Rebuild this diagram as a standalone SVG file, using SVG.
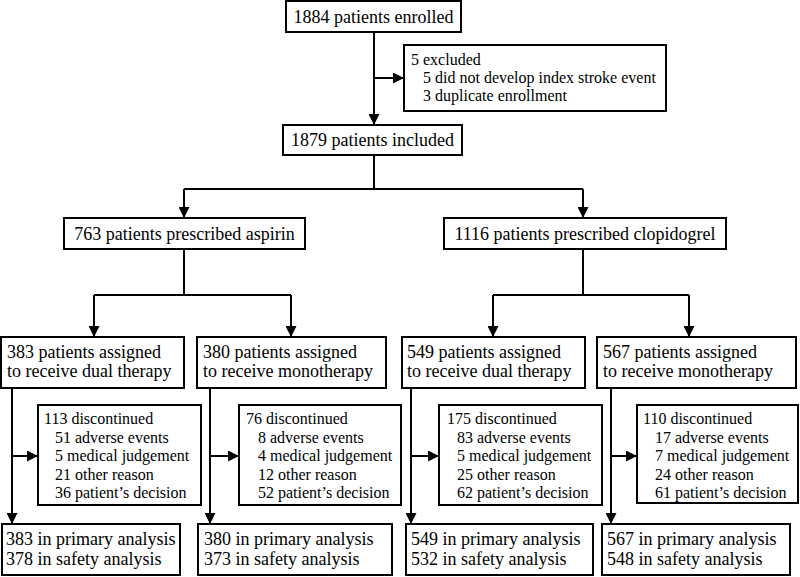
<svg xmlns="http://www.w3.org/2000/svg" width="800" height="577" viewBox="0 0 800 577">
<defs>
<marker id="ah" markerUnits="userSpaceOnUse" markerWidth="11" markerHeight="11" refX="11" refY="5.5" orient="auto">
<path d="M0,0 L11,5.5 L0,11 z" fill="#000"/>
</marker>
<style>
rect{fill:#fff;stroke:#000;stroke-width:2}
text{font-family:"Liberation Serif","Times New Roman",serif;fill:#000}
.m{font-size:18px}
.c{text-anchor:middle}
.s{font-size:16px}
#connectors path{fill:none;stroke:#000;stroke-width:2}
.a{marker-end:url(#ah)}
</style>
</defs>
<rect x="0" y="0" width="800" height="577" style="fill:#fff;stroke:none"/>
<g id="connectors">
<path class="a" d="M374,32 V125"/>
<path class="a" d="M374,78 H404"/>
<path d="M374,155 V189 M184,189 H583"/>
<path class="a" d="M184,189 V218"/>
<path class="a" d="M583,189 V218"/>
<path d="M184,249 V295 M94,295 H291"/>
<path class="a" d="M94,295 V337"/>
<path class="a" d="M291,295 V337"/>
<path d="M583,249 V295 M493,295 H689"/>
<path class="a" d="M493,295 V337"/>
<path class="a" d="M689,295 V337"/>
<path class="a" d="M12,388 V524"/>
<path class="a" d="M12,456 H38"/>
<path class="a" d="M210,388 V524"/>
<path class="a" d="M210,456 H239"/>
<path class="a" d="M411,388 V524"/>
<path class="a" d="M411,456 H439"/>
<path class="a" d="M611,388 V524"/>
<path class="a" d="M611,456 H637"/>
</g>
<g id="enrolled"><rect x="286" y="1" width="175" height="31"/><text class="m c" x="373.5" y="22.5">1884 patients enrolled</text></g>
<g id="excluded"><rect x="404" y="45" width="262" height="66"/>
<text class="s" x="411" y="65">5 excluded</text>
<text class="s" x="423" y="83">5 did not develop index stroke event</text>
<text class="s" x="423" y="101">3 duplicate enrollment</text></g>
<g id="included"><rect x="283" y="125" width="179" height="30"/><text class="m c" x="372.5" y="146">1879 patients included</text></g>
<g id="aspirin"><rect x="64" y="218" width="241" height="31"/><text class="m c" x="184.5" y="239.5">763 patients prescribed aspirin</text></g>
<g id="clopidogrel"><rect x="444" y="218" width="282" height="31"/><text class="m c" x="585" y="239.5">1116 patients prescribed clopidogrel</text></g>
<g id="a_dual"><rect x="1" y="337" width="183" height="51"/><text class="m" x="7" y="358">383 patients assigned</text><text class="m" x="7" y="377">to receive dual therapy</text></g>
<g id="a_mono"><rect x="197" y="337" width="189" height="51"/><text class="m" x="203" y="358">380 patients assigned</text><text class="m" x="203" y="377">to receive monotherapy</text></g>
<g id="c_dual"><rect x="402" y="337" width="183" height="51"/><text class="m" x="407" y="358">549 patients assigned</text><text class="m" x="407" y="377">to receive dual therapy</text></g>
<g id="c_mono"><rect x="597" y="337" width="199" height="51"/><text class="m" x="603" y="358">567 patients assigned</text><text class="m" x="603" y="377">to receive monotherapy</text></g>
<g id="a_dual_disc"><rect x="38" y="405" width="163" height="100"/>
<text class="s" x="44" y="424">113 discontinued</text>
<text class="s" x="55" y="443">51 adverse events</text>
<text class="s" x="55" y="461">5 medical judgement</text>
<text class="s" x="55" y="480">21 other reason</text>
<text class="s" x="55" y="498">36 patient’s decision</text></g>
<g id="a_mono_disc"><rect x="239" y="405" width="162" height="100"/>
<text class="s" x="246" y="424">76 discontinued</text>
<text class="s" x="258" y="443">8 adverse events</text>
<text class="s" x="258" y="461">4 medical judgement</text>
<text class="s" x="258" y="480">12 other reason</text>
<text class="s" x="258" y="498">52 patient’s decision</text></g>
<g id="c_dual_disc"><rect x="439" y="405" width="163" height="100"/>
<text class="s" x="447" y="424">175 discontinued</text>
<text class="s" x="457" y="443">83 adverse events</text>
<text class="s" x="457" y="461">5 medical judgement</text>
<text class="s" x="457" y="480">25 other reason</text>
<text class="s" x="457" y="498">62 patient’s decision</text></g>
<g id="c_mono_disc"><rect x="637" y="405" width="161" height="98"/>
<text class="s" x="643" y="424">110 discontinued</text>
<text class="s" x="655" y="443">17 adverse events</text>
<text class="s" x="655" y="461">7 medical judgement</text>
<text class="s" x="655" y="480">24 other reason</text>
<text class="s" x="655" y="498">61 patient’s decision</text></g>
<g id="a_dual_an"><rect x="2" y="524" width="178" height="51"/><text class="m" x="6" y="545">383 in primary analysis</text><text class="m" x="6" y="565">378 in safety analysis</text></g>
<g id="a_mono_an"><rect x="198" y="524" width="194" height="51"/><text class="m" x="204" y="545">380 in primary analysis</text><text class="m" x="204" y="565">373 in safety analysis</text></g>
<g id="c_dual_an"><rect x="406" y="524" width="187" height="51"/><text class="m" x="411" y="545">549 in primary analysis</text><text class="m" x="411" y="565">532 in safety analysis</text></g>
<g id="c_mono_an"><rect x="602" y="524" width="188" height="51"/><text class="m" x="607" y="545">567 in primary analysis</text><text class="m" x="607" y="565">548 in safety analysis</text></g>
</svg>
